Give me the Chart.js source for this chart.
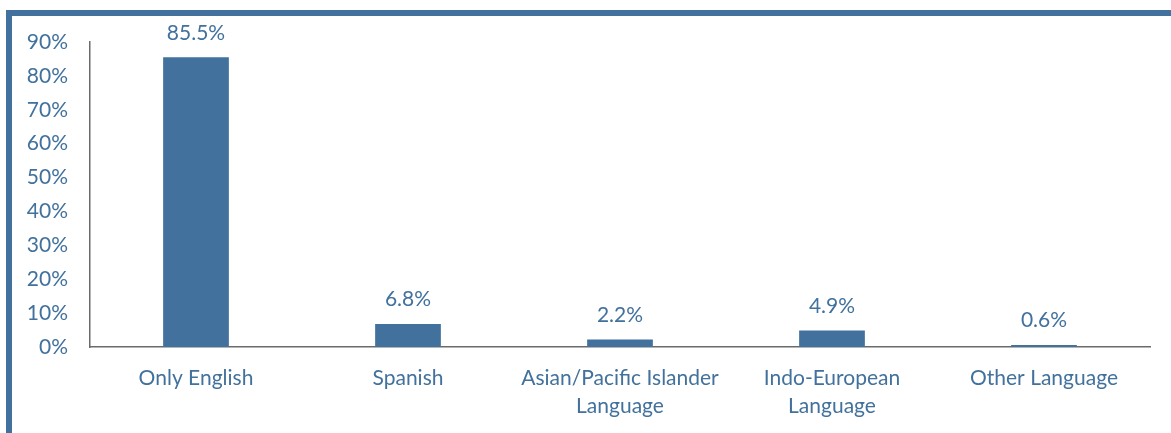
<!DOCTYPE html>
<html>
<head>
<meta charset="utf-8">
<script src="https://cdn.jsdelivr.net/npm/chart.js@4/dist/chart.umd.min.js"></script>
<style>
    html, body { margin: 0; padding: 0; background: #ffffff; }
    .Frame {
        position: absolute;
        left: 6px;
        top: 10px;
        width: 1165px;
        height: 423px;
        box-sizing: border-box;
        border-left: 6px solid #41719c;
        border-top: 6px solid #41719c;
    }
    .Graph { position: relative; width: 1159px; height: 417px; }
</style>
</head>
<body>
<div class = 'Frame'>
    <div class = 'Graph'><canvas id = 'graph-1'></canvas></div>
</div>
<script>
const categories = ['Only English', 'Spanish', ['Asian/Pacific Islander', 'Language'], ['Indo-European', 'Language'], 'Other Language']
const shares     = [85.5, 6.8, 2.2, 4.9, 0.6]
const yTicks     = [0, 10, 20, 30, 40, 50, 60, 70, 80, 90]

const blue = '#41719c'
const font = { family: 'Lato', size: 21, lineHeight: 1.3 }

// values above the bars
const barLabels = {
    id: 'barLabels',
    afterDatasetsDraw(chart) {
        let ctx = chart.ctx
        let meta = chart.getDatasetMeta(0)
        ctx.save()
        ctx.font = `${font.size}px ${font.family}`
        ctx.fillStyle = blue
        ctx.textAlign = 'center'
        ctx.textBaseline = 'middle'
        meta.data.forEach((bar, i) => {
            ctx.fillText(shares[i].toFixed(1) + '%', bar.x, bar.y - 24.5)
        })
        ctx.restore()
    }
}

let graph1 = {
    type: 'bar',
    data: {
        labels: categories,
        datasets: [{
            label: 'Share',
            backgroundColor: blue,
            borderWidth: 0,
            categoryPercentage: 1,
            barPercentage: 0.31,
            data: shares
        }]
    },
    options: {
        responsive: true,
        maintainAspectRatio: false,
        animation: false,
        layout: { padding: { top: 26, right: 21, left: 0, bottom: 0 } },
        plugins: {
            legend: { display: false },
            tooltip: { enabled: false }
        },
        scales: {
            x: {
                grid: { display: false, drawTicks: false },
                border: { display: true, color: '#6b6b6b', width: 1.5 },
                ticks: { color: blue, font: font, padding: 18, maxRotation: 0, autoSkip: false },
                afterFit: scale => {
                    scale.height = 86
                    scale.paddingLeft = 0
                    scale.paddingRight = 0
                }
            },
            y: {
                min: 0,
                max: 90,
                grid: { display: false, drawTicks: false },
                border: { display: true, color: '#6b6b6b', width: 1.5 },
                afterBuildTicks: scale => { scale.ticks = yTicks.map(v => ({ value: v })) },
                ticks: {
                    color: blue,
                    font: font,
                    padding: 22,
                    callback: value => value + '%'
                },
                afterFit: scale => {
                    scale.width = 78
                    scale.paddingTop = 0
                    scale.paddingBottom = 0
                }
            }
        }
    },
    plugins: [barLabels]
}

let canvas = document.getElementById('graph-1')
let chart = new Chart(canvas.getContext('2d'), graph1)
</script>
</body>
</html>
